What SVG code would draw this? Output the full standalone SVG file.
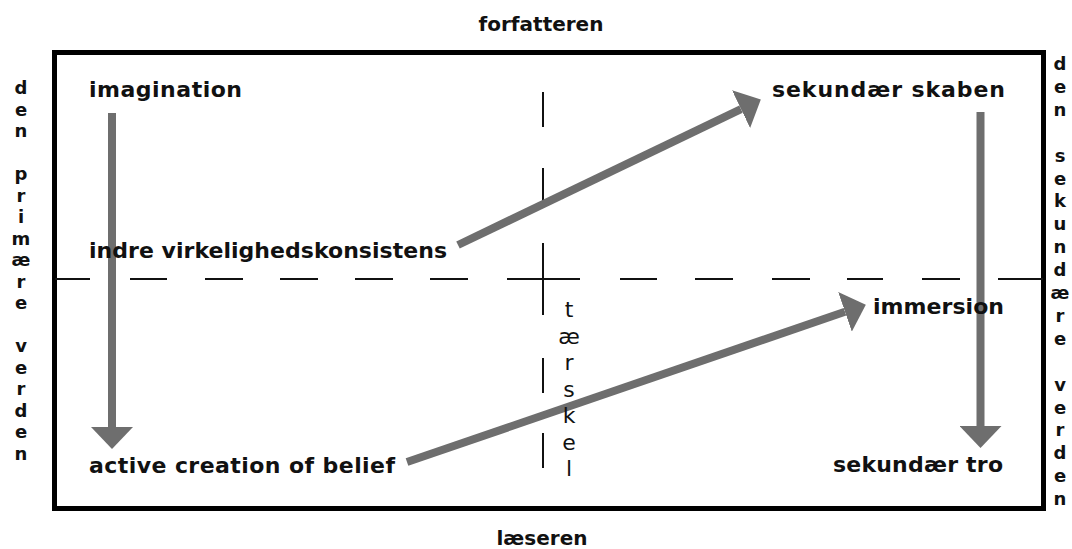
<svg xmlns="http://www.w3.org/2000/svg" width="1072" height="549" viewBox="0 0 1072 549">
  <style>
    .lbl { font-family: "DejaVu Sans", "Liberation Sans", sans-serif; font-weight: bold; font-size: 22px; fill: #111; }
    .edge { font-family: "DejaVu Sans", "Liberation Sans", sans-serif; font-weight: bold; font-size: 20px; fill: #111; }
    .col { font-family: "DejaVu Sans", "Liberation Sans", sans-serif; font-weight: bold; font-size: 18px; fill: #111; text-anchor: middle; }
    .thr { font-family: "DejaVu Sans", "Liberation Sans", sans-serif; font-weight: normal; font-size: 22px; fill: #111; text-anchor: middle; }
    .dash { stroke: #111; stroke-width: 2; fill: none; }
    .arrow { stroke: #6e6e6e; stroke-width: 8; fill: none; marker-end: url(#head); }
  </style>
  <defs>
    <marker id="head" markerUnits="userSpaceOnUse" markerWidth="22" markerHeight="42" viewBox="0 0 22 42" refX="0" refY="21" orient="auto">
      <path d="M0,0 L22,21 L0,42 Z" fill="#6e6e6e"/>
    </marker>
  </defs>
  <rect width="1072" height="549" fill="#fff"/>

  <g id="frame">
    <rect x="54.5" y="52.5" width="989" height="456" fill="none" stroke="#000" stroke-width="5"/>
  </g>

  <g id="dividers">
    <path class="dash" d="M55,279H90 M130,279H167 M205,279H243 M280,279H318 M355,279H393 M430,279H468 M507,279H580 M620,279H657 M695,279H733 M772,279H810 M847,279H883 M922,279H960 M998,279H1043"/>
    <path class="dash" d="M543,92V127 M543,168V203 M543,243V315 M543,358V393 M543,433V468"/>
  </g>

  <g id="connectors">
    <line class="arrow" x1="112" y1="113" x2="112" y2="427"/>
    <line class="arrow" x1="980.5" y1="112" x2="980.5" y2="426"/>
    <line class="arrow" x1="458" y1="245" x2="741" y2="109.1"/>
    <line class="arrow" x1="407" y1="462" x2="845" y2="311.8"/>
  </g>

  <g id="node-imagination"><text class="lbl" x="89" y="97" textLength="153">imagination</text></g>
  <g id="node-indre"><text class="lbl" x="89" y="258" textLength="358">indre virkelighedskonsistens</text></g>
  <g id="node-active"><text class="lbl" x="89" y="473" textLength="306">active creation of belief</text></g>
  <g id="node-skaben"><text class="lbl" x="772" y="97" textLength="233">sekundær skaben</text></g>
  <g id="node-immersion"><text class="lbl" x="873" y="314" textLength="131">immersion</text></g>
  <g id="node-tro"><text class="lbl" x="833" y="472" textLength="170">sekundær tro</text></g>

  <g id="label-forfatteren"><text class="edge" x="541" y="31" text-anchor="middle">forfatteren</text></g>
  <g id="label-laeseren"><text class="edge" x="542" y="545" text-anchor="middle">læseren</text></g>

  <g id="label-primaere">
    <text class="col" x="21" y="94">d</text>
    <text class="col" x="21" y="115.5">e</text>
    <text class="col" x="21" y="137">n</text>
    <text class="col" x="21" y="180">p</text>
    <text class="col" x="21" y="201.5">r</text>
    <text class="col" x="21" y="223">i</text>
    <text class="col" x="21" y="244.5">m</text>
    <text class="col" x="21" y="266">æ</text>
    <text class="col" x="21" y="287.5">r</text>
    <text class="col" x="21" y="309">e</text>
    <text class="col" x="21" y="352">v</text>
    <text class="col" x="21" y="373.5">e</text>
    <text class="col" x="21" y="395">r</text>
    <text class="col" x="21" y="416.5">d</text>
    <text class="col" x="21" y="438">e</text>
    <text class="col" x="21" y="459.5">n</text>
  </g>

  <g id="label-sekundaere">
    <text class="col" x="1060" y="70">d</text>
    <text class="col" x="1060" y="92.9">e</text>
    <text class="col" x="1060" y="115.8">n</text>
    <text class="col" x="1060" y="161.6">s</text>
    <text class="col" x="1060" y="184.5">e</text>
    <text class="col" x="1060" y="207.4">k</text>
    <text class="col" x="1060" y="230.3">u</text>
    <text class="col" x="1060" y="253.2">n</text>
    <text class="col" x="1060" y="276.1">d</text>
    <text class="col" x="1060" y="299">æ</text>
    <text class="col" x="1060" y="321.9">r</text>
    <text class="col" x="1060" y="344.8">e</text>
    <text class="col" x="1060" y="390.6">v</text>
    <text class="col" x="1060" y="413.5">e</text>
    <text class="col" x="1060" y="436.4">r</text>
    <text class="col" x="1060" y="459.3">d</text>
    <text class="col" x="1060" y="482.2">e</text>
    <text class="col" x="1060" y="505.1">n</text>
  </g>

  <g id="label-taerskel">
    <text class="thr" x="569" y="317">t</text>
    <text class="thr" x="569" y="343.5">æ</text>
    <text class="thr" x="569" y="370">r</text>
    <text class="thr" x="569" y="396.5">s</text>
    <text class="thr" x="569" y="423">k</text>
    <text class="thr" x="569" y="449.5">e</text>
    <text class="thr" x="569" y="476">l</text>
  </g>
</svg>
